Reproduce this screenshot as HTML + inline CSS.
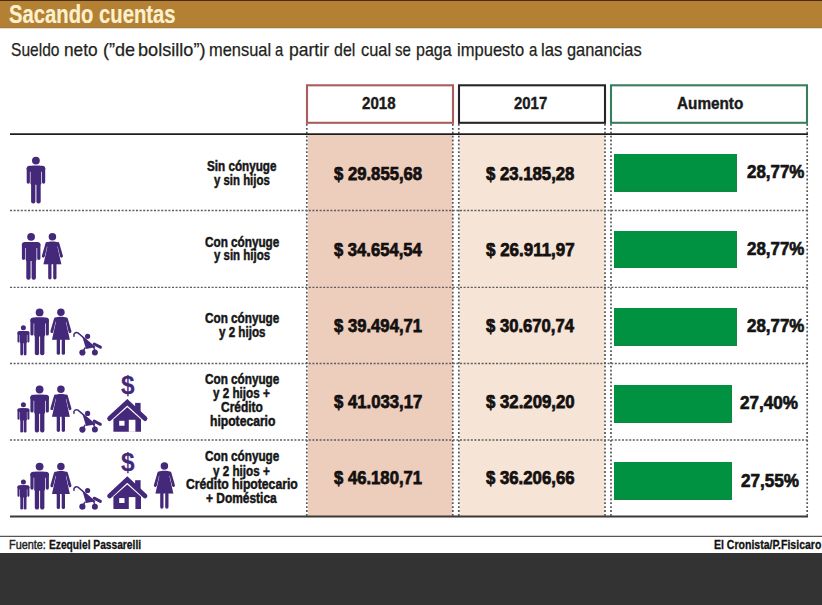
<!DOCTYPE html>
<html><head><meta charset="utf-8"><style>
html,body{margin:0;padding:0;background:#fff;}
#p{position:relative;width:822px;height:605px;overflow:hidden;background:#fff;font-family:"Liberation Sans",Arial,sans-serif;}
.t{position:absolute;white-space:nowrap;line-height:1;transform-origin:0 0;}
</style></head><body><div id="p">
<div style="position:absolute;left:0;top:0;width:822px;height:1px;background:#4a2c10"></div>
<div style="position:absolute;left:0;top:1px;width:822px;height:27px;background:#b48034"></div>
<div style="position:absolute;left:0;top:27px;width:822px;height:1px;background:#a07846"></div>
<div style="position:absolute;left:0;top:28px;width:822px;height:1px;background:#e4dccd"></div>
<svg style="position:absolute;left:0;top:0" width="822" height="605" viewBox="0 0 822 605">
<rect x="308" y="134.5" width="144.5" height="381.5" fill="#edcdbc"/>
<rect x="459.5" y="134.5" width="145" height="381.5" fill="#f6e4d6"/>
<rect x="307" y="85.3" width="146" height="37.5" fill="none" stroke="#ad5c5c" stroke-width="2.1"/>
<rect x="459" y="85.3" width="146" height="37.5" fill="none" stroke="#262626" stroke-width="2.1"/>
<rect x="611" y="85.3" width="196" height="37.5" fill="none" stroke="#3a7d5a" stroke-width="2.1"/>
<line x1="306.8" y1="124" x2="306.8" y2="516" stroke="#555" stroke-width="1.7" stroke-dasharray="1.8 2.1"/>
<line x1="452.8" y1="124" x2="452.8" y2="516" stroke="#555" stroke-width="1.7" stroke-dasharray="1.8 2.1"/>
<line x1="458.8" y1="124" x2="458.8" y2="516" stroke="#555" stroke-width="1.7" stroke-dasharray="1.8 2.1"/>
<line x1="605" y1="124" x2="605" y2="516" stroke="#555" stroke-width="1.7" stroke-dasharray="1.8 2.1"/>
<line x1="611" y1="124" x2="611" y2="516" stroke="#555" stroke-width="1.7" stroke-dasharray="1.8 2.1"/>
<line x1="807.2" y1="124" x2="807.2" y2="516" stroke="#555" stroke-width="1.7" stroke-dasharray="1.8 2.1"/>
<line x1="10" y1="210.5" x2="808" y2="210.5" stroke="#5e5e5e" stroke-width="1.3" stroke-dasharray="2 1.6"/>
<line x1="10" y1="287.3" x2="808" y2="287.3" stroke="#5e5e5e" stroke-width="1.3" stroke-dasharray="2 1.6"/>
<line x1="10" y1="363.5" x2="808" y2="363.5" stroke="#5e5e5e" stroke-width="1.3" stroke-dasharray="2 1.6"/>
<line x1="10" y1="440" x2="808" y2="440" stroke="#5e5e5e" stroke-width="1.3" stroke-dasharray="2 1.6"/>
<line x1="10" y1="134.1" x2="808" y2="134.1" stroke="#1e1e1e" stroke-width="1.8"/>
<line x1="10" y1="516.5" x2="808" y2="516.5" stroke="#3b3835" stroke-width="1.8"/>
<line x1="0" y1="536.3" x2="822" y2="536.3" stroke="#555" stroke-width="1.2"/>
<g transform="translate(35.9,156.7) scale(1.0)" fill="#44297b"><circle cx="0" cy="3.9" r="3.9"/><rect x="-9.2" y="9.1" width="18.5" height="6" rx="3"/><rect x="-9.2" y="10" width="3.2" height="17" rx="1.6"/><rect x="6.1" y="10" width="3.2" height="17" rx="1.6"/><rect x="-5.4" y="9.1" width="10.8" height="19" rx="1.5"/><rect x="-4.8" y="24" width="4.3" height="22.8" rx="2"/><rect x="0.5" y="24" width="4.3" height="22.8" rx="2"/></g>
<g transform="translate(31.1,232.9) scale(1.0)" fill="#44297b"><circle cx="0" cy="3.9" r="3.9"/><rect x="-9.2" y="9.1" width="18.5" height="6" rx="3"/><rect x="-9.2" y="10" width="3.2" height="17" rx="1.6"/><rect x="6.1" y="10" width="3.2" height="17" rx="1.6"/><rect x="-5.4" y="9.1" width="10.8" height="19" rx="1.5"/><rect x="-4.8" y="24" width="4.3" height="22.8" rx="2"/><rect x="0.5" y="24" width="4.3" height="22.8" rx="2"/></g>
<g transform="translate(52.4,233.1) scale(1.0)" fill="#44297b"><circle cx="0" cy="3.7" r="3.75"/><path d="M-5.4,10.6 L-9.0,23.0" stroke="#44297b" stroke-width="3.1" stroke-linecap="round"/><path d="M5.4,10.6 L9.0,23.0" stroke="#44297b" stroke-width="3.1" stroke-linecap="round"/><path d="M-4.4,11.2 L4.4,11.2 L8.9,31.2 L-8.9,31.2 Z" stroke="#fff" stroke-width="0.8" stroke-linejoin="round"/><path d="M-4.4,11.2 L4.4,11.2 L8.9,31.2 L-8.9,31.2 Z"/><path d="M-6.9,12.2 C-6.9,9.6 -5,8.3 0,8.3 C5,8.3 6.9,9.6 6.9,12.2 L4.9,13.6 L-4.9,13.6 Z"/><rect x="-4.2" y="30" width="3.3" height="16.3" rx="1.6"/><rect x="0.8" y="30" width="3.3" height="16.3" rx="1.6"/></g>
<g transform="translate(39.6,308.5) scale(1.0)" fill="#44297b"><circle cx="0" cy="3.9" r="3.9"/><rect x="-9.2" y="9.1" width="18.5" height="6" rx="3"/><rect x="-9.2" y="10" width="3.2" height="17" rx="1.6"/><rect x="6.1" y="10" width="3.2" height="17" rx="1.6"/><rect x="-5.4" y="9.1" width="10.8" height="19" rx="1.5"/><rect x="-4.8" y="24" width="4.3" height="22.8" rx="2"/><rect x="0.5" y="24" width="4.3" height="22.8" rx="2"/></g>
<g transform="translate(60.9,308.5) scale(1.0)" fill="#44297b"><circle cx="0" cy="3.7" r="3.75"/><path d="M-5.4,10.6 L-9.0,23.0" stroke="#44297b" stroke-width="3.1" stroke-linecap="round"/><path d="M5.4,10.6 L9.0,23.0" stroke="#44297b" stroke-width="3.1" stroke-linecap="round"/><path d="M-4.4,11.2 L4.4,11.2 L8.9,31.2 L-8.9,31.2 Z" stroke="#fff" stroke-width="0.8" stroke-linejoin="round"/><path d="M-4.4,11.2 L4.4,11.2 L8.9,31.2 L-8.9,31.2 Z"/><path d="M-6.9,12.2 C-6.9,9.6 -5,8.3 0,8.3 C5,8.3 6.9,9.6 6.9,12.2 L4.9,13.6 L-4.9,13.6 Z"/><rect x="-4.2" y="30" width="3.3" height="16.3" rx="1.6"/><rect x="0.8" y="30" width="3.3" height="16.3" rx="1.6"/></g>
<g transform="translate(23.4,325.2) scale(0.645)" fill="#44297b"><circle cx="0" cy="3.9" r="3.9"/><rect x="-9.2" y="9.1" width="18.5" height="6" rx="3"/><rect x="-9.2" y="10" width="3.2" height="17" rx="1.6"/><rect x="6.1" y="10" width="3.2" height="17" rx="1.6"/><rect x="-5.4" y="9.1" width="10.8" height="19" rx="1.5"/><rect x="-4.8" y="24" width="4.3" height="22.8" rx="2"/><rect x="0.5" y="24" width="4.3" height="22.8" rx="2"/></g>
<g transform="translate(0,0)" fill="#44297b"><path d="M74,336.2 C73.2,333.6 75.6,331.8 78,333 L94.5,347" fill="none" stroke="#44297b" stroke-width="1.5" stroke-linecap="round"/><circle cx="87.6" cy="336.3" r="2.6"/><path d="M82.3,336.4 L95,347.3 L86,348.9 Z"/><path d="M94.2,344 L100.4,347.2" stroke="#44297b" stroke-width="3" stroke-linecap="round"/><path d="M85.4,347.5 L83,351 M93.4,347 L95,350.5" stroke="#44297b" stroke-width="1.4"/><circle cx="82.4" cy="352.5" r="3.1"/><circle cx="94.9" cy="352.5" r="3.0"/></g>
<g transform="translate(39.6,385.6) scale(1.0)" fill="#44297b"><circle cx="0" cy="3.9" r="3.9"/><rect x="-9.2" y="9.1" width="18.5" height="6" rx="3"/><rect x="-9.2" y="10" width="3.2" height="17" rx="1.6"/><rect x="6.1" y="10" width="3.2" height="17" rx="1.6"/><rect x="-5.4" y="9.1" width="10.8" height="19" rx="1.5"/><rect x="-4.8" y="24" width="4.3" height="22.8" rx="2"/><rect x="0.5" y="24" width="4.3" height="22.8" rx="2"/></g>
<g transform="translate(60.9,385.6) scale(1.0)" fill="#44297b"><circle cx="0" cy="3.7" r="3.75"/><path d="M-5.4,10.6 L-9.0,23.0" stroke="#44297b" stroke-width="3.1" stroke-linecap="round"/><path d="M5.4,10.6 L9.0,23.0" stroke="#44297b" stroke-width="3.1" stroke-linecap="round"/><path d="M-4.4,11.2 L4.4,11.2 L8.9,31.2 L-8.9,31.2 Z" stroke="#fff" stroke-width="0.8" stroke-linejoin="round"/><path d="M-4.4,11.2 L4.4,11.2 L8.9,31.2 L-8.9,31.2 Z"/><path d="M-6.9,12.2 C-6.9,9.6 -5,8.3 0,8.3 C5,8.3 6.9,9.6 6.9,12.2 L4.9,13.6 L-4.9,13.6 Z"/><rect x="-4.2" y="30" width="3.3" height="16.3" rx="1.6"/><rect x="0.8" y="30" width="3.3" height="16.3" rx="1.6"/></g>
<g transform="translate(23.4,402.29999999999995) scale(0.645)" fill="#44297b"><circle cx="0" cy="3.9" r="3.9"/><rect x="-9.2" y="9.1" width="18.5" height="6" rx="3"/><rect x="-9.2" y="10" width="3.2" height="17" rx="1.6"/><rect x="6.1" y="10" width="3.2" height="17" rx="1.6"/><rect x="-5.4" y="9.1" width="10.8" height="19" rx="1.5"/><rect x="-4.8" y="24" width="4.3" height="22.8" rx="2"/><rect x="0.5" y="24" width="4.3" height="22.8" rx="2"/></g>
<g transform="translate(0,77.1)" fill="#44297b"><path d="M74,336.2 C73.2,333.6 75.6,331.8 78,333 L94.5,347" fill="none" stroke="#44297b" stroke-width="1.5" stroke-linecap="round"/><circle cx="87.6" cy="336.3" r="2.6"/><path d="M82.3,336.4 L95,347.3 L86,348.9 Z"/><path d="M94.2,344 L100.4,347.2" stroke="#44297b" stroke-width="3" stroke-linecap="round"/><path d="M85.4,347.5 L83,351 M93.4,347 L95,350.5" stroke="#44297b" stroke-width="1.4"/><circle cx="82.4" cy="352.5" r="3.1"/><circle cx="94.9" cy="352.5" r="3.0"/></g>
<g transform="translate(39.6,462.7) scale(1.0)" fill="#44297b"><circle cx="0" cy="3.9" r="3.9"/><rect x="-9.2" y="9.1" width="18.5" height="6" rx="3"/><rect x="-9.2" y="10" width="3.2" height="17" rx="1.6"/><rect x="6.1" y="10" width="3.2" height="17" rx="1.6"/><rect x="-5.4" y="9.1" width="10.8" height="19" rx="1.5"/><rect x="-4.8" y="24" width="4.3" height="22.8" rx="2"/><rect x="0.5" y="24" width="4.3" height="22.8" rx="2"/></g>
<g transform="translate(60.9,462.7) scale(1.0)" fill="#44297b"><circle cx="0" cy="3.7" r="3.75"/><path d="M-5.4,10.6 L-9.0,23.0" stroke="#44297b" stroke-width="3.1" stroke-linecap="round"/><path d="M5.4,10.6 L9.0,23.0" stroke="#44297b" stroke-width="3.1" stroke-linecap="round"/><path d="M-4.4,11.2 L4.4,11.2 L8.9,31.2 L-8.9,31.2 Z" stroke="#fff" stroke-width="0.8" stroke-linejoin="round"/><path d="M-4.4,11.2 L4.4,11.2 L8.9,31.2 L-8.9,31.2 Z"/><path d="M-6.9,12.2 C-6.9,9.6 -5,8.3 0,8.3 C5,8.3 6.9,9.6 6.9,12.2 L4.9,13.6 L-4.9,13.6 Z"/><rect x="-4.2" y="30" width="3.3" height="16.3" rx="1.6"/><rect x="0.8" y="30" width="3.3" height="16.3" rx="1.6"/></g>
<g transform="translate(23.4,479.4) scale(0.645)" fill="#44297b"><circle cx="0" cy="3.9" r="3.9"/><rect x="-9.2" y="9.1" width="18.5" height="6" rx="3"/><rect x="-9.2" y="10" width="3.2" height="17" rx="1.6"/><rect x="6.1" y="10" width="3.2" height="17" rx="1.6"/><rect x="-5.4" y="9.1" width="10.8" height="19" rx="1.5"/><rect x="-4.8" y="24" width="4.3" height="22.8" rx="2"/><rect x="0.5" y="24" width="4.3" height="22.8" rx="2"/></g>
<g transform="translate(0,154.2)" fill="#44297b"><path d="M74,336.2 C73.2,333.6 75.6,331.8 78,333 L94.5,347" fill="none" stroke="#44297b" stroke-width="1.5" stroke-linecap="round"/><circle cx="87.6" cy="336.3" r="2.6"/><path d="M82.3,336.4 L95,347.3 L86,348.9 Z"/><path d="M94.2,344 L100.4,347.2" stroke="#44297b" stroke-width="3" stroke-linecap="round"/><path d="M85.4,347.5 L83,351 M93.4,347 L95,350.5" stroke="#44297b" stroke-width="1.4"/><circle cx="82.4" cy="352.5" r="3.1"/><circle cx="94.9" cy="352.5" r="3.0"/></g>
<g transform="translate(0,0)" fill="#44297b"><rect x="135.1" y="402.9" width="5.5" height="10"/><path d="M109.6,418.6 L127.3,402.2 L145,418.6" fill="none" stroke="#44297b" stroke-width="4.8" stroke-linecap="round" stroke-linejoin="miter"/><path d="M113.4,419.5 L127.3,407.2 L141,419.5 L141,431.7 L113.4,431.7 Z"/><rect x="119.2" y="420.8" width="5.3" height="4.9" fill="#fff"/><rect x="128.8" y="419.8" width="6.6" height="12" fill="#fff"/></g>
<g transform="translate(0,77.3)" fill="#44297b"><rect x="135.1" y="402.9" width="5.5" height="10"/><path d="M109.6,418.6 L127.3,402.2 L145,418.6" fill="none" stroke="#44297b" stroke-width="4.8" stroke-linecap="round" stroke-linejoin="miter"/><path d="M113.4,419.5 L127.3,407.2 L141,419.5 L141,431.7 L113.4,431.7 Z"/><rect x="119.2" y="420.8" width="5.3" height="4.9" fill="#fff"/><rect x="128.8" y="419.8" width="6.6" height="12" fill="#fff"/></g>
<g transform="translate(164.4,462.4) scale(1.0)" fill="#44297b"><circle cx="0" cy="3.7" r="3.75"/><path d="M-5.4,10.6 L-9.0,23.0" stroke="#44297b" stroke-width="3.1" stroke-linecap="round"/><path d="M5.4,10.6 L9.0,23.0" stroke="#44297b" stroke-width="3.1" stroke-linecap="round"/><path d="M-4.4,11.2 L4.4,11.2 L8.9,31.2 L-8.9,31.2 Z" stroke="#fff" stroke-width="0.8" stroke-linejoin="round"/><path d="M-4.4,11.2 L4.4,11.2 L8.9,31.2 L-8.9,31.2 Z"/><path d="M-6.9,12.2 C-6.9,9.6 -5,8.3 0,8.3 C5,8.3 6.9,9.6 6.9,12.2 L4.9,13.6 L-4.9,13.6 Z"/><rect x="-4.2" y="30" width="3.3" height="16.3" rx="1.6"/><rect x="0.8" y="30" width="3.3" height="16.3" rx="1.6"/></g>
</svg>
<div style="position:absolute;left:613.9px;top:153.7px;width:123.0px;height:37.9px;background:#009240;box-shadow:inset -1px -1px 0 #14843f"></div>
<div style="position:absolute;left:614px;top:230.7px;width:123.2px;height:37.8px;background:#009240;box-shadow:inset -1px -1px 0 #14843f"></div>
<div style="position:absolute;left:614px;top:307.5px;width:123.1px;height:38.2px;background:#009240;box-shadow:inset -1px -1px 0 #14843f"></div>
<div style="position:absolute;left:613.5px;top:384.8px;width:118.0px;height:38.0px;background:#009240;box-shadow:inset -1px -1px 0 #14843f"></div>
<div style="position:absolute;left:613.5px;top:461.7px;width:118.5px;height:37.9px;background:#009240;box-shadow:inset -1px -1px 0 #14843f"></div>
<div class="t" style="left:9.49px;top:1.49px;font-size:26px;font-weight:700;color:#fcf1cf;transform:scaleX(0.7788);-webkit-text-stroke:0.2px #fcf1cf;">Sacando cuentas</div>
<div class="t" style="left:10.90px;top:40.32px;font-size:19px;font-weight:400;color:#231f20;transform:scaleX(0.8190);-webkit-text-stroke:0.25px #231f20;">Sueldo</div>
<div class="t" style="left:63.97px;top:40.32px;font-size:19px;font-weight:400;color:#231f20;transform:scaleX(0.9098);-webkit-text-stroke:0.25px #231f20;">neto</div>
<div class="t" style="left:102.50px;top:40.32px;font-size:19px;font-weight:400;color:#231f20;transform:scaleX(0.9526);-webkit-text-stroke:0.25px #231f20;">(”de</div>
<div class="t" style="left:137.95px;top:40.32px;font-size:19px;font-weight:400;color:#231f20;transform:scaleX(0.9535);-webkit-text-stroke:0.25px #231f20;">bolsillo”)</div>
<div class="t" style="left:209.32px;top:40.32px;font-size:19px;font-weight:400;color:#231f20;transform:scaleX(0.8643);-webkit-text-stroke:0.25px #231f20;">mensual</div>
<div class="t" style="left:275.27px;top:40.32px;font-size:19px;font-weight:400;color:#231f20;transform:scaleX(0.7792);-webkit-text-stroke:0.25px #231f20;">a</div>
<div class="t" style="left:288.68px;top:40.32px;font-size:19px;font-weight:400;color:#231f20;transform:scaleX(0.9238);-webkit-text-stroke:0.25px #231f20;">partir</div>
<div class="t" style="left:334.23px;top:40.32px;font-size:19px;font-weight:400;color:#231f20;transform:scaleX(0.8412);-webkit-text-stroke:0.25px #231f20;">del</div>
<div class="t" style="left:361.11px;top:40.32px;font-size:19px;font-weight:400;color:#231f20;transform:scaleX(0.8629);-webkit-text-stroke:0.25px #231f20;">cual</div>
<div class="t" style="left:395.38px;top:40.32px;font-size:19px;font-weight:400;color:#231f20;transform:scaleX(0.7918);-webkit-text-stroke:0.25px #231f20;">se</div>
<div class="t" style="left:415.97px;top:40.32px;font-size:19px;font-weight:400;color:#231f20;transform:scaleX(0.8427);-webkit-text-stroke:0.25px #231f20;">paga</div>
<div class="t" style="left:457.00px;top:40.32px;font-size:19px;font-weight:400;color:#231f20;transform:scaleX(0.8714);-webkit-text-stroke:0.25px #231f20;">impuesto</div>
<div class="t" style="left:528.76px;top:40.32px;font-size:19px;font-weight:400;color:#231f20;transform:scaleX(0.7892);-webkit-text-stroke:0.25px #231f20;">a</div>
<div class="t" style="left:541.09px;top:40.32px;font-size:19px;font-weight:400;color:#231f20;transform:scaleX(0.8772);-webkit-text-stroke:0.25px #231f20;">las</div>
<div class="t" style="left:566.82px;top:40.32px;font-size:19px;font-weight:400;color:#231f20;transform:scaleX(0.8619);-webkit-text-stroke:0.25px #231f20;">ganancias</div>
<div class="t" style="left:361.76px;top:95.33px;font-size:16.5px;font-weight:700;color:#1a1a1a;transform:scaleX(0.9132);-webkit-text-stroke:0.4px #1a1a1a;">2018</div>
<div class="t" style="left:513.66px;top:95.33px;font-size:16.5px;font-weight:700;color:#1a1a1a;transform:scaleX(0.9048);-webkit-text-stroke:0.4px #1a1a1a;">2017</div>
<div class="t" style="left:677.10px;top:95.43px;font-size:16.5px;font-weight:700;color:#1a1a1a;transform:scaleX(0.9274);-webkit-text-stroke:0.4px #1a1a1a;">Aumento</div>
<div class="t" style="left:207.06px;top:159.07px;font-size:14.8px;font-weight:700;color:#161616;transform:scaleX(0.7892);-webkit-text-stroke:0.5px #161616;">Sin cónyuge</div>
<div class="t" style="left:214.00px;top:173.07px;font-size:14.8px;font-weight:700;color:#161616;transform:scaleX(0.7706);-webkit-text-stroke:0.5px #161616;">y sin hijos</div>
<div class="t" style="left:204.82px;top:234.67px;font-size:14.8px;font-weight:700;color:#161616;transform:scaleX(0.7925);-webkit-text-stroke:0.5px #161616;">Con cónyuge</div>
<div class="t" style="left:214.00px;top:248.47px;font-size:14.8px;font-weight:700;color:#161616;transform:scaleX(0.7747);-webkit-text-stroke:0.5px #161616;">y sin hijos</div>
<div class="t" style="left:204.82px;top:311.47px;font-size:14.8px;font-weight:700;color:#161616;transform:scaleX(0.7925);-webkit-text-stroke:0.5px #161616;">Con cónyuge</div>
<div class="t" style="left:218.81px;top:325.27px;font-size:14.8px;font-weight:700;color:#161616;transform:scaleX(0.7847);-webkit-text-stroke:0.5px #161616;">y 2 hijos</div>
<div class="t" style="left:204.82px;top:372.07px;font-size:14.8px;font-weight:700;color:#161616;transform:scaleX(0.7925);-webkit-text-stroke:0.5px #161616;">Con cónyuge</div>
<div class="t" style="left:213.31px;top:386.07px;font-size:14.8px;font-weight:700;color:#161616;transform:scaleX(0.7887);-webkit-text-stroke:0.5px #161616;">y 2 hijos +</div>
<div class="t" style="left:220.91px;top:400.07px;font-size:14.8px;font-weight:700;color:#161616;transform:scaleX(0.8080);-webkit-text-stroke:0.5px #161616;">Crédito</div>
<div class="t" style="left:209.56px;top:414.07px;font-size:14.8px;font-weight:700;color:#161616;transform:scaleX(0.8200);-webkit-text-stroke:0.5px #161616;">hipotecario</div>
<div class="t" style="left:204.82px;top:449.47px;font-size:14.8px;font-weight:700;color:#161616;transform:scaleX(0.7925);-webkit-text-stroke:0.5px #161616;">Con cónyuge</div>
<div class="t" style="left:213.31px;top:463.67px;font-size:14.8px;font-weight:700;color:#161616;transform:scaleX(0.7887);-webkit-text-stroke:0.5px #161616;">y 2 hijos +</div>
<div class="t" style="left:186.31px;top:477.47px;font-size:14.8px;font-weight:700;color:#161616;transform:scaleX(0.8237);-webkit-text-stroke:0.5px #161616;">Crédito hipotecario</div>
<div class="t" style="left:206.30px;top:491.37px;font-size:14.8px;font-weight:700;color:#161616;transform:scaleX(0.8072);-webkit-text-stroke:0.5px #161616;">+ Doméstica</div>
<div class="t" style="left:334.32px;top:164.86px;font-size:18.6px;font-weight:700;color:#141010;transform:scaleX(0.8972);-webkit-text-stroke:0.75px #141010;">$ 29.855,68</div>
<div class="t" style="left:486.42px;top:164.86px;font-size:18.6px;font-weight:700;color:#141010;transform:scaleX(0.9002);-webkit-text-stroke:0.75px #141010;">$ 23.185,28</div>
<div class="t" style="left:334.32px;top:240.56px;font-size:18.6px;font-weight:700;color:#141010;transform:scaleX(0.8929);-webkit-text-stroke:0.75px #141010;">$ 34.654,54</div>
<div class="t" style="left:486.42px;top:240.56px;font-size:18.6px;font-weight:700;color:#141010;transform:scaleX(0.9121);-webkit-text-stroke:0.75px #141010;">$ 26.911,97</div>
<div class="t" style="left:334.32px;top:317.06px;font-size:18.6px;font-weight:700;color:#141010;transform:scaleX(0.8967);-webkit-text-stroke:0.75px #141010;">$ 39.494,71</div>
<div class="t" style="left:486.42px;top:317.06px;font-size:18.6px;font-weight:700;color:#141010;transform:scaleX(0.8959);-webkit-text-stroke:0.75px #141010;">$ 30.670,74</div>
<div class="t" style="left:334.32px;top:392.86px;font-size:18.6px;font-weight:700;color:#141010;transform:scaleX(0.8994);-webkit-text-stroke:0.75px #141010;">$ 41.033,17</div>
<div class="t" style="left:486.42px;top:392.86px;font-size:18.6px;font-weight:700;color:#141010;transform:scaleX(0.9020);-webkit-text-stroke:0.75px #141010;">$ 32.209,20</div>
<div class="t" style="left:334.32px;top:469.36px;font-size:18.6px;font-weight:700;color:#141010;transform:scaleX(0.8967);-webkit-text-stroke:0.75px #141010;">$ 46.180,71</div>
<div class="t" style="left:486.42px;top:469.36px;font-size:18.6px;font-weight:700;color:#141010;transform:scaleX(0.9012);-webkit-text-stroke:0.75px #141010;">$ 36.206,66</div>
<div class="t" style="left:747.13px;top:163.10px;font-size:18.9px;font-weight:700;color:#141414;transform:scaleX(0.8955);-webkit-text-stroke:0.7px #141414;">28,77%</div>
<div class="t" style="left:747.13px;top:240.30px;font-size:18.9px;font-weight:700;color:#141414;transform:scaleX(0.8955);-webkit-text-stroke:0.7px #141414;">28,77%</div>
<div class="t" style="left:747.13px;top:317.30px;font-size:18.9px;font-weight:700;color:#141414;transform:scaleX(0.8955);-webkit-text-stroke:0.7px #141414;">28,77%</div>
<div class="t" style="left:740.22px;top:394.30px;font-size:18.9px;font-weight:700;color:#141414;transform:scaleX(0.9050);-webkit-text-stroke:0.7px #141414;">27,40%</div>
<div class="t" style="left:741.02px;top:471.50px;font-size:18.9px;font-weight:700;color:#141414;transform:scaleX(0.9065);-webkit-text-stroke:0.7px #141414;">27,55%</div>
<div class="t" style="left:120.75px;top:372.47px;font-size:26.5px;font-weight:700;color:#44297b;transform:scaleX(0.9178);-webkit-text-stroke:0.15px #44297b;">$</div>
<div class="t" style="left:120.75px;top:449.47px;font-size:26.5px;font-weight:700;color:#44297b;transform:scaleX(0.9178);-webkit-text-stroke:0.15px #44297b;">$</div>
<div class="t" style="left:9.39px;top:539.07px;font-size:12.2px;font-weight:400;color:#222;transform:scaleX(0.8926);-webkit-text-stroke:0.4px #222;">Fuente:</div>
<div class="t" style="left:49.34px;top:539.07px;font-size:12.2px;font-weight:700;color:#111;transform:scaleX(0.8388);-webkit-text-stroke:0.3px #111;">Ezequiel Passarelli</div>
<div class="t" style="left:714.23px;top:539.27px;font-size:12.2px;font-weight:700;color:#111;transform:scaleX(0.8629);-webkit-text-stroke:0.3px #111;">El Cronista/P.Fisicaro</div>
<div style="position:absolute;left:0;top:553px;width:822px;height:52px;background:#333"></div>
</div></body></html>
